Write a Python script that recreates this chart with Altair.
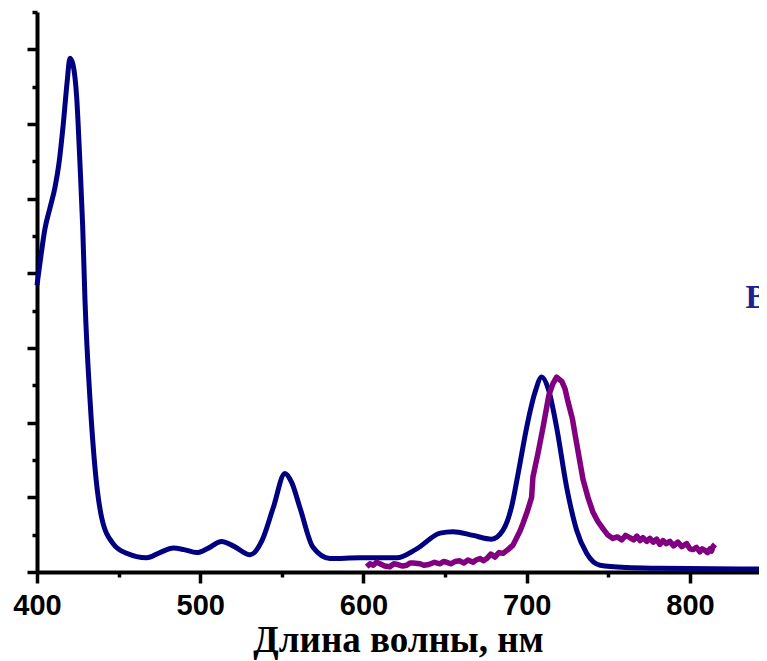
import altair as alt
import pandas as pd

# Absorption spectrum (navy)
abs_nm = [400.0, 402.5, 404.9, 408.0, 411.0, 413.5, 416.1, 418.4, 420.2, 422.1, 424.3, 426.3, 428.0, 429.4,
          432.5, 435.5, 439.6, 446.6, 454.9, 467.2, 475.3, 483.5, 490.0, 497.8, 505.0, 513.1,
          521.0, 530.5, 537.8, 544.7, 551.9, 556.0, 561.1, 569.1, 579.5, 597.9, 620.3, 632.6,
          646.9, 654.8, 667.1, 678.5, 685.5, 690.8, 695.0, 700.0, 705.0, 709.2, 713.5, 718.3,
          724.5, 730.6, 736.7, 744.9, 761.2, 781.6, 830.6, 846.0]
abs_val = [0.384, 0.425, 0.460, 0.488, 0.515, 0.548, 0.600, 0.655, 0.688, 0.679, 0.636, 0.548, 0.462, 0.364,
           0.230, 0.140, 0.073, 0.038, 0.025, 0.019, 0.026, 0.032, 0.030, 0.026, 0.032, 0.041,
           0.034, 0.023, 0.042, 0.086, 0.132, 0.120, 0.086, 0.033, 0.018, 0.019, 0.019, 0.031,
           0.052, 0.054, 0.049, 0.044, 0.056, 0.088, 0.135, 0.194, 0.240, 0.261, 0.243, 0.194,
           0.113, 0.056, 0.025, 0.009, 0.006, 0.005, 0.004, 0.004]

# Emission spectrum (purple)
em_nm = [602.0, 604.0, 606.0, 608.0, 610.1, 613.0, 616.2, 618.5, 621.0, 624.0, 626.5, 628.5, 630.5,
         634.6, 637.0, 640.0, 643.5, 646.9, 649.0, 651.0, 653.5, 656.0, 659.0, 661.5, 664.0, 667.1,
         669.0, 671.4, 673.5, 675.5, 678.0, 680.5, 683.0, 685.5, 688.5, 691.6, 695.9,
         697.7, 700.5, 703.0, 703.8, 707.0, 710.0, 713.6, 716.0, 718.3, 721.6, 723.5, 725.3, 728.0,
         730.6, 734.5, 737.5, 740.6, 743.5, 746.7,
         749.5, 752.8, 755.5, 758.3, 760.5, 763.2, 765.5, 767.5, 769.5, 771.2, 773.5, 775.5, 777.5,
         779.6, 781.5, 783.5, 785.5, 787.7, 790.0, 792.6, 795.0, 798.0, 800.0, 801.8, 804.0,
         806.1, 807.5, 809.2, 810.8, 812.3, 813.2, 814.1, 815.3]
em_val = [0.007, 0.011, 0.009, 0.013, 0.011, 0.008, 0.007, 0.011, 0.010, 0.008, 0.009, 0.012, 0.012,
          0.011, 0.009, 0.010, 0.013, 0.011, 0.014, 0.013, 0.011, 0.014, 0.015, 0.012, 0.016, 0.013,
          0.016, 0.018, 0.015, 0.018, 0.024, 0.020, 0.026, 0.025, 0.030, 0.036, 0.055,
          0.065, 0.082, 0.100, 0.127, 0.160, 0.194, 0.237, 0.252, 0.261, 0.255, 0.245, 0.228, 0.205,
          0.172, 0.124, 0.100, 0.080, 0.068, 0.058,
          0.050, 0.045, 0.047, 0.043, 0.049, 0.046, 0.043, 0.048, 0.042, 0.046, 0.041, 0.045, 0.040,
          0.044, 0.037, 0.042, 0.038, 0.041, 0.035, 0.040, 0.034, 0.038, 0.031, 0.030, 0.033,
          0.027, 0.031, 0.029, 0.026, 0.031, 0.028, 0.034, 0.037]

x_major = [400, 500, 600, 700, 800]
x_minor = [450, 550, 650, 750]
y_major = [0.0, 0.1, 0.2, 0.3, 0.4, 0.5, 0.6, 0.7]
y_minor = [0.05, 0.15, 0.25, 0.35, 0.45, 0.55, 0.65, 0.75]

label_text = ["В"]
label_nm = [834.0]
label_val = [0.367]

abs_df = pd.DataFrame({"nm": abs_nm, "val": abs_val})
em_df = pd.DataFrame({"nm": em_nm, "val": em_val})
lab_df = pd.DataFrame({"nm": label_nm, "val": label_val, "t": label_text})

xs = alt.Scale(domain=[400, 842.3], nice=False, zero=False)
ys = alt.Scale(domain=[0, 0.75], nice=False, zero=False)

axis_common = dict(domainColor="black", domainWidth=4, tickColor="black", tickWidth=3.5,
                   grid=False)

blue = alt.Chart(abs_df).mark_line(color="#000080", strokeWidth=5, interpolate="monotone").encode(
    x=alt.X("nm:Q", scale=xs, axis=alt.Axis(
        orient="bottom", values=x_major, tickSize=11, labelPadding=8,
        labelFont="Liberation Sans", labelFontSize=29, labelFontWeight="bold", labelColor="black",
        title="Длина волны, нм", titleFont="Liberation Serif", titleFontSize=37,
        titleFontWeight="bold", titleColor="black", titlePadding=2, labelFlush=False,
        **axis_common)),
    y=alt.Y("val:Q", scale=ys, axis=alt.Axis(
        orient="left", values=y_major, tickSize=10, labels=False, title=None, **axis_common)),
)

purple = alt.Chart(em_df).mark_line(color="#800080", strokeWidth=5.5, interpolate="linear",
                                    strokeJoin="round").encode(
    x=alt.X("nm:Q", scale=xs, axis=alt.Axis(
        orient="bottom", values=x_minor, tickSize=5, labels=False, title=None, domain=False,
        tickColor="black", tickWidth=3.5, grid=False)),
    y=alt.Y("val:Q", scale=ys, axis=alt.Axis(
        orient="left", values=y_minor, tickSize=5, labels=False, title=None, domain=False,
        tickColor="black", tickWidth=3.5, grid=False)),
)

letter = alt.Chart(lab_df).mark_text(
    align="left", baseline="middle", font="Liberation Serif", fontSize=33,
    fontWeight="bold", color="#202090"
).encode(
    x=alt.X("nm:Q", scale=xs, axis=None),
    y=alt.Y("val:Q", scale=ys, axis=None),
    text="t:N",
)

chart = alt.layer(blue, purple, letter).resolve_axis(x="independent", y="independent").properties(
    width=722, height=560,
    autosize=alt.AutoSizeParams(type="none"),
    padding={"left": 29, "top": 4, "right": 0, "bottom": 89},
).configure_view(stroke=None)

chart.save("out.html", embed_options={"renderer": "svg", "actions": False})
